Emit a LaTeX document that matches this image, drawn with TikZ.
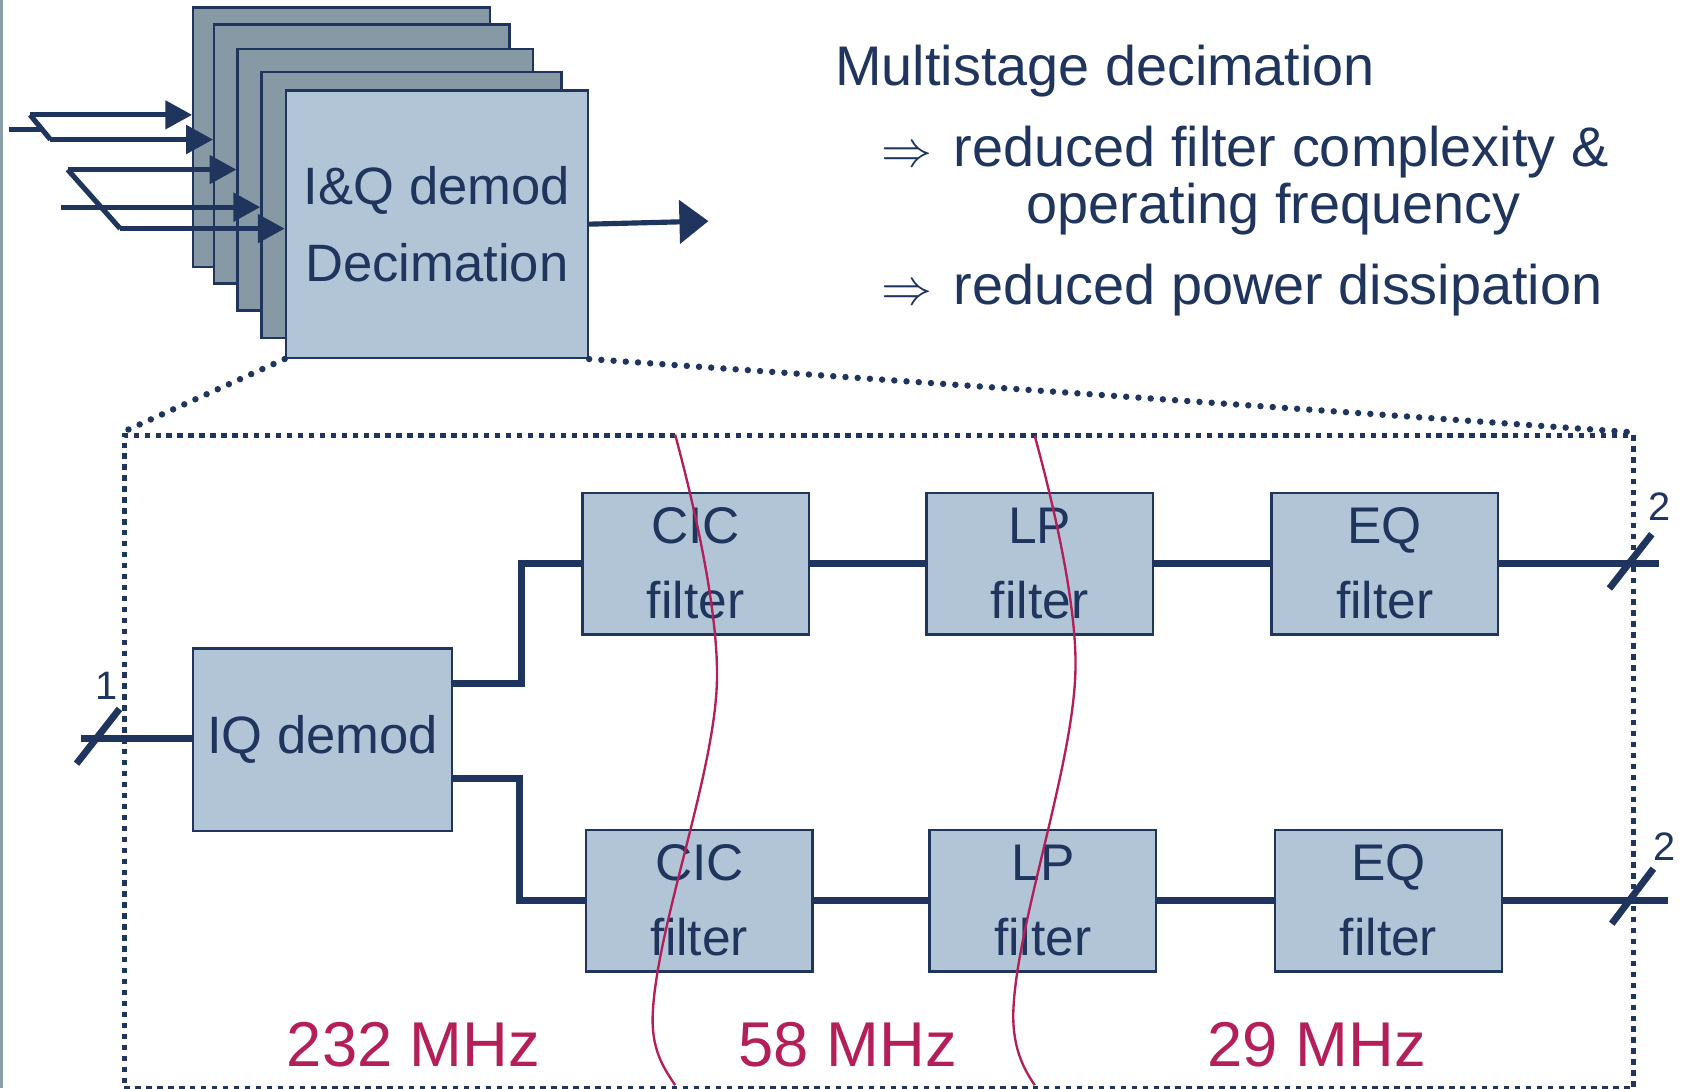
\documentclass[tikz,border=0pt]{standalone}
\usepackage{fontspec}
\setmainfont{Liberation Sans}
\usetikzlibrary{arrows.meta,calc}
\definecolor{navy}{HTML}{1F355E}
\definecolor{panel}{HTML}{B1C5D7}
\definecolor{backpanel}{HTML}{8799A4}
\definecolor{rate}{HTML}{B41F5A}
\definecolor{edgebar}{HTML}{8C9DAA}
\newcommand\bigimplies{\scalebox{4.75}{\normalsize$\Rightarrow$}}
\begin{document}
\begin{tikzpicture}[x=1pt,y=-1pt,
  stackbox/.style={draw=navy,fill=backpanel,line width=2.2pt,anchor=north west,inner sep=0pt},
  blk/.style={draw=navy,fill=panel,line width=2.2pt,inner sep=0pt,text=navy,align=center,anchor=north west},
  filt/.style={blk,minimum width=211pt,minimum height=132pt,font=\fontsize{48}{70}\selectfont},
  feedline/.style={draw=navy,line width=4.8pt},
  feed/.style={feedline,-{Triangle[length=25pt,width=26pt]}},
  wire/.style={draw=navy,line width=6.4pt},
  busmark/.style={draw=navy,line width=6.4pt},
  buslabel/.style={text=navy,font=\fontsize{37}{40}\selectfont,inner sep=0pt},
  zoomline/.style={draw=navy,line width=6pt,line cap=round,dash pattern=on 0pt off 11.4pt},
  frame/.style={draw=navy,line width=5pt,dash pattern=on 5pt off 5.2pt,anchor=north west,inner sep=0pt},
  ratecut/.style={draw=rate,line width=2.2pt},
  ratelabel/.style={text=rate,font=\fontsize{59}{60}\selectfont,anchor=base west,inner sep=0pt},
  note/.style={text=navy,font=\fontsize{52}{60}\selectfont,anchor=base west,inner sep=0pt}
]
\useasboundingbox (0,0) rectangle (1568,1014);
\fill[white] (0,0) rectangle (1568,1014);
\fill[edgebar] (0,0) rectangle (3,1014);

% stacked channel blocks
\node[stackbox,minimum width=276.5pt,minimum height=241.5pt] (b1) at (179,6) {};
\node[stackbox,minimum width=275pt,minimum height=241.3pt] (b2) at (198.5,21.7) {};
\node[stackbox,minimum width=275.1pt,minimum height=243.8pt] (b3) at (220.3,44.4) {};
\node[stackbox,minimum width=279.4pt,minimum height=247.5pt] (b4) at (242.5,66.2) {};
\node[blk,minimum width=281.5pt,minimum height=249.1pt,font=\fontsize{49}{71}\selectfont] (b5) at (265.2,83.2) {I\&Q demod\\Decimation};

% input buses split onto the channels
\coordinate (in1) at (8,121);
\coordinate (j1) at (41,121);
\coordinate (s1a) at (28,107);
\coordinate (s1b) at (47,130);
\draw[feedline] (in1) -- (j1);
\draw[feedline] (s1a) -- (s1b);
\draw[feed] (s1a) -- (s1a -| b1.west);
\draw[feed] (s1b) -- (s1b -| b2.west);
\coordinate (in2) at (57,193);
\coordinate (s2a) at (63,158);
\coordinate (s2b) at (112,213);
\draw[feedline] (s2a) -- (s2b);
\draw[feed] (s2a) -- (s2a -| b3.west);
\draw[feed] (in2) -- (in2 -| b4.west);
\draw[feed] (s2b) -- (s2b -| b5.west);
\coordinate (out0) at (660,206);
\draw[feedline,-{Triangle[length=27pt,width=40pt]}] (b5.east) -- (out0);

% heading
\node[note] (h0) at (778,80) {Multistage decimation};
\node[note] (a1) at (821,155) {\bigimplies};
\node[note] (h1) at (888.6,155) {reduced filter complexity \&};
\node[note] (h2) at (956.5,208) {operating frequency};
\node[note] (a2) at (821,284) {\bigimplies};
\node[note] (h3) at (888.6,284) {reduced power dissipation};

% detail frame
\node[frame,minimum width=1406pt,minimum height=608.4pt] (zoomframe) at (113.4,403) {};
\draw[zoomline] (b5.south west) -- (zoomframe.north west);
\draw[zoomline] (b5.south east) -- (zoomframe.north east);

% processing chain
\node[blk,minimum width=241pt,minimum height=170pt,font=\fontsize{49}{60}\selectfont] (iq) at (179,603) {IQ demod};
\node[filt] (cic1) at (541.5,458) {CIC\\filter};
\node[filt] (lp1) at (862,458) {LP\\filter};
\node[filt] (eq1) at (1183.5,458) {EQ\\filter};
\node[filt] (cic2) at (545,772) {CIC\\filter};
\node[filt] (lp2) at (865,772) {LP\\filter};
\node[filt] (eq2) at (1187,772) {EQ\\filter};

\coordinate (in3) at (75,688);
\coordinate (out1) at (1546,523);
\coordinate (out2) at (1554,836);
\draw[wire] (in3) -- (in3 -| iq.west);
\draw[wire] ([yshift=52pt]iq.east) -- ++(64,0) |- (cic1.west);
\draw[wire] ([yshift=-36pt]iq.east) -- ++(62,0) |- (cic2.west);
\draw[wire] (cic1.east) -- (lp1.west);
\draw[wire] (lp1.east) -- (eq1.west);
\draw[wire] (cic2.east) -- (lp2.west);
\draw[wire] (lp2.east) -- (eq2.west);
\draw[wire] (eq1.east) -- (eq1.east -| out1);
\draw[wire] (eq2.east) -- (eq2.east -| out2);

% bus width marks
\coordinate (m1) at (91.3,686);
\coordinate (m2) at (1519.2,523);
\coordinate (m3) at (1521,835);
\draw[busmark] (m1) ++(-20,25.5) -- ++(40,-51);
\draw[busmark] (m2) ++(-19.8,25.3) -- ++(39.5,-50.6);
\draw[busmark] (m3) ++(-19.4,25.6) -- ++(38.8,-51.3);
\node[buslabel] (w1) at (99,639) {1};
\node[buslabel] (w2) at (1546,472) {2};
\node[buslabel] (w3) at (1551,789) {2};

% sample-rate boundaries
\draw[ratecut] (629,405) .. controls (648,475) and (669,570) .. (668,632)
  .. controls (667,720) and (609,870) .. (608,950)
  .. controls (608,980) and (619,996) .. (629,1011);
\draw[ratecut] (964,406) .. controls (983,475) and (1003,565) .. (1002,622)
  .. controls (1001,712) and (945,866) .. (944,946)
  .. controls (944,978) and (954,996) .. (964,1011);
\node[ratelabel] (r1) at (267,994) {232 MHz};
\node[ratelabel] (r2) at (688,994) {58 MHz};
\node[ratelabel] (r3) at (1125,994) {29 MHz};
\end{tikzpicture}
\end{document}
